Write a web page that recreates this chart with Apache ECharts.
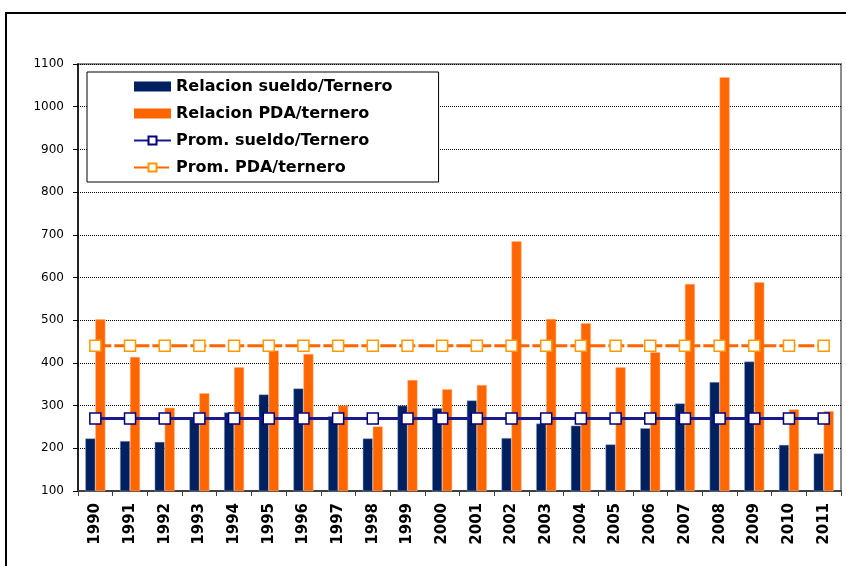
<!DOCTYPE html>
<html>
<head>
<meta charset="utf-8">
<script src="https://cdn.jsdelivr.net/npm/echarts@6/dist/echarts.min.js"></script>
<style>
  html, body { margin: 0; padding: 0; background: #fff; }
  #chart { width: 846px; height: 566px; }
  .frame {
    position: absolute; left: 5px; top: 12px; width: 900px; height: 600px;
    border-left: 2px solid #000; border-top: 2px solid #000; pointer-events: none;
  }
</style>
</head>
<body>
<div id="chart"></div>
<div class="frame"></div>
<script>
  const years = ["1990", "1991", "1992", "1993", "1994", "1995", "1996", "1997", "1998", "1999", "2000",
    "2001", "2002", "2003", "2004", "2005", "2006", "2007", "2008", "2009", "2010", "2011"];
  const sueldoTernero = [223, 217, 215, 268, 284, 326, 340, 275, 223, 300, 294,
    312, 224, 258, 253, 209, 247, 305, 355, 403, 208, 188];
  const pdaTernero = [502, 414, 295, 329, 390, 429, 421, 300, 251, 360, 338,
    348, 685, 503, 493, 390, 425, 585, 1069, 589, 291, 287];
  const promSueldo = [270, 270, 270, 270, 270, 270, 270, 270, 270, 270, 270,
    270, 270, 270, 270, 270, 270, 270, 270, 270, 270, 270];
  const promPda = [440, 440, 440, 440, 440, 440, 440, 440, 440, 440, 440,
    440, 440, 440, 440, 440, 440, 440, 440, 440, 440, 440];
  const yTicks = { min: 100, max: 1100, step: 100 };

  const chart = echarts.init(document.getElementById("chart"));
  chart.setOption({
    animation: false,
    grid: {
      left: 78, right: 5, top: 64, bottom: 75,
      show: true, borderColor: "#8c8c8c", borderWidth: 2,
    },
    legend: {
      orient: "vertical",
      left: 87, top: 72,
      backgroundColor: "#fff",
      borderColor: "#000", borderWidth: 1,
      padding: [6, 46, 6, 46],
      itemWidth: 37, itemHeight: 10, itemGap: 10, itemTextGap: 4,
      textStyle: { fontFamily: "DejaVu Sans", fontWeight: "bold", fontSize: 16, color: "#000", lineHeight: 17 },
      data: [
        { name: "Relacion sueldo/Ternero", icon: "rect", itemStyle: { borderWidth: 0 } },
        { name: "Relacion PDA/ternero", icon: "rect", itemStyle: { borderWidth: 0 } },
        "Prom. sueldo/Ternero",
        "Prom. PDA/ternero",
      ],
    },
    xAxis: {
      type: "category",
      data: years,
      axisLine: { lineStyle: { color: "#404040", width: 2 } },
      axisTick: { show: true, interval: 0, length: 5, lineStyle: { color: "#404040" } },
      axisLabel: {
        interval: 0, rotate: 90, margin: 12,
        fontFamily: "DejaVu Sans", fontWeight: "bold", fontSize: 15, color: "#000",
      },
      splitLine: { show: false },
    },
    yAxis: {
      type: "value",
      min: yTicks.min, max: yTicks.max, interval: yTicks.step,
      axisLine: { show: true, lineStyle: { color: "#000", width: 1.5 } },
      axisTick: { show: true, length: 5, lineStyle: { color: "#000" } },
      axisLabel: {
        margin: 14, fontFamily: "DejaVu Sans", fontSize: 12, color: "#000",
        formatter: (v) => String(v),
      },
      splitLine: { lineStyle: { color: "#000", type: "dotted", width: 1 } },
    },
    series: [
      {
        name: "Relacion sueldo/Ternero", type: "bar", data: sueldoTernero,
        barWidth: 10, barGap: "0%",
        itemStyle: { color: "#002060", borderColor: "#8fa0c8", borderWidth: 0.5 },
      },
      {
        name: "Relacion PDA/ternero", type: "bar", data: pdaTernero,
        barWidth: 10, barGap: "0%",
        itemStyle: { color: "#ff6600", borderColor: "#ffb080", borderWidth: 0.5 },
      },
      {
        name: "Prom. sueldo/Ternero", type: "line", data: promSueldo,
        symbol: "rect", symbolSize: 11, showAllSymbol: true,
        lineStyle: { color: "#1a1a8c", width: 3 },
        itemStyle: { color: "#fff", borderColor: "#000080", borderWidth: 1.5 },
        z: 5,
      },
      {
        name: "Prom. PDA/ternero", type: "line", data: promPda,
        symbol: "rect", symbolSize: 11, showAllSymbol: true,
        lineStyle: { color: "#ff6600", width: 3, type: [16, 3] },
        itemStyle: { color: "#fff", borderColor: "#ff9900", borderWidth: 1.5 },
        z: 5,
      },
    ],
  });
</script>
</body>
</html>
